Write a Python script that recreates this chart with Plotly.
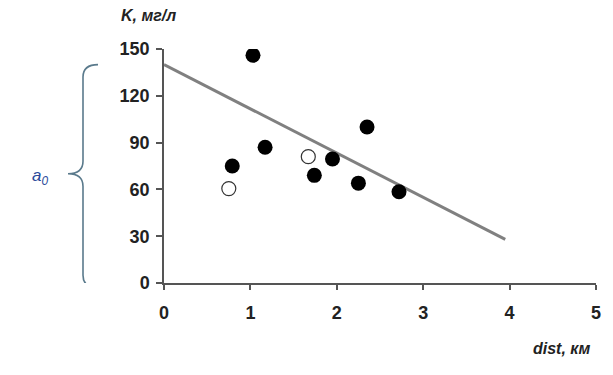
import plotly.graph_objects as go

# Data
dist_filled = [1.03, 2.35, 1.17, 0.79, 1.95, 1.74, 2.25, 2.72]
k_filled = [146, 100, 87, 75, 79.5, 69, 64, 58.5]
dist_open = [1.67, 0.75]
k_open = [81, 60.5]
trend_x = [0, 3.95]
trend_y = [140, 28]
x_ticks = [0, 1, 2, 3, 4, 5]
y_ticks = [0, 30, 60, 90, 120, 150]
a0_value = 140

axis_color = "#555555"
font_family = "Liberation Sans, Arial, sans-serif"

fig = go.Figure()
fig.add_trace(go.Scatter(x=trend_x, y=trend_y, mode="lines",
                         line=dict(color="#808080", width=3), showlegend=False,
                         hoverinfo="skip"))
fig.add_trace(go.Scatter(x=dist_filled, y=k_filled, mode="markers",
                         marker=dict(color="black", size=15, line=dict(width=0)),
                         showlegend=False))
fig.add_trace(go.Scatter(x=dist_open, y=k_open, mode="markers",
                         marker=dict(color="white", size=14, line=dict(color="#333333", width=1.2)),
                         showlegend=False))

# page body has an 8px margin, so margins are reduced accordingly
fig.update_layout(
    width=613, height=375,
    margin=dict(l=156, r=25, t=41, b=100, autoexpand=False),
    paper_bgcolor="white", plot_bgcolor="white",
    font=dict(family=font_family, color="#222222"),
    xaxis=dict(range=[0, 5], tickvals=x_ticks, showgrid=False, zeroline=False,
               showline=True, linecolor=axis_color, linewidth=1.5,
               ticks="outside", ticklen=5, tickcolor=axis_color, tickwidth=1.5,
               tickfont=dict(size=18, family=font_family, color="#222222", weight="bold"),
               ticklabelstandoff=8),
    yaxis=dict(range=[0, 150], tickvals=y_ticks, showgrid=False, zeroline=False,
               showline=True, linecolor=axis_color, linewidth=1.5,
               ticks="outside", ticklen=6, tickcolor=axis_color, tickwidth=1.5,
               tickfont=dict(size=18, family=font_family, color="#222222", weight="bold"),
               ticklabelstandoff=3),
)

# Axis titles
fig.add_annotation(text="<b><i>K, мг/л</i></b>", xref="paper", yref="paper",
                   x=-45 / 432, y=1 + 34 / 234, xanchor="left", yanchor="middle",
                   showarrow=False, font=dict(size=16, family=font_family, color="#222222"))
fig.add_annotation(text="<b><i>dist, км</i></b>", xref="paper", yref="paper",
                   x=1 - 4 / 432, y=-65 / 234, xanchor="right", yanchor="middle",
                   showarrow=False, font=dict(size=16, family=font_family, color="#222222"))

# Curly brace for a0 (from 0 to a0 on the y axis), placed left of the axis in pixel offsets
def px(xp):
    return (xp - 164) / 432.0

top, bot = a0_value, 0
mid = (top + bot) / 2
xe, xv, xt = px(98), px(83), px(68)
dy = 8
path = (f"M {xe},{top} Q {xv},{top} {xv},{top - dy} "
        f"L {xv},{mid + dy} Q {xv},{mid} {xt},{mid} "
        f"Q {xv},{mid} {xv},{mid - dy} "
        f"L {xv},{bot + dy - 3} Q {xv},{bot - 3} {xe},{bot - 3}")
fig.add_shape(type="path", path=path, xref="paper", yref="y",
              line=dict(color="#5a7a8c", width=1.6), layer="above")

fig.add_annotation(text="<i>a<sub>0</sub></i>", xref="paper", yref="y",
                   x=px(40), y=mid - 2, xanchor="center", yanchor="middle",
                   showarrow=False, font=dict(size=17, family=font_family, color="#2a4a9a"))

fig.write_html("out.html")
